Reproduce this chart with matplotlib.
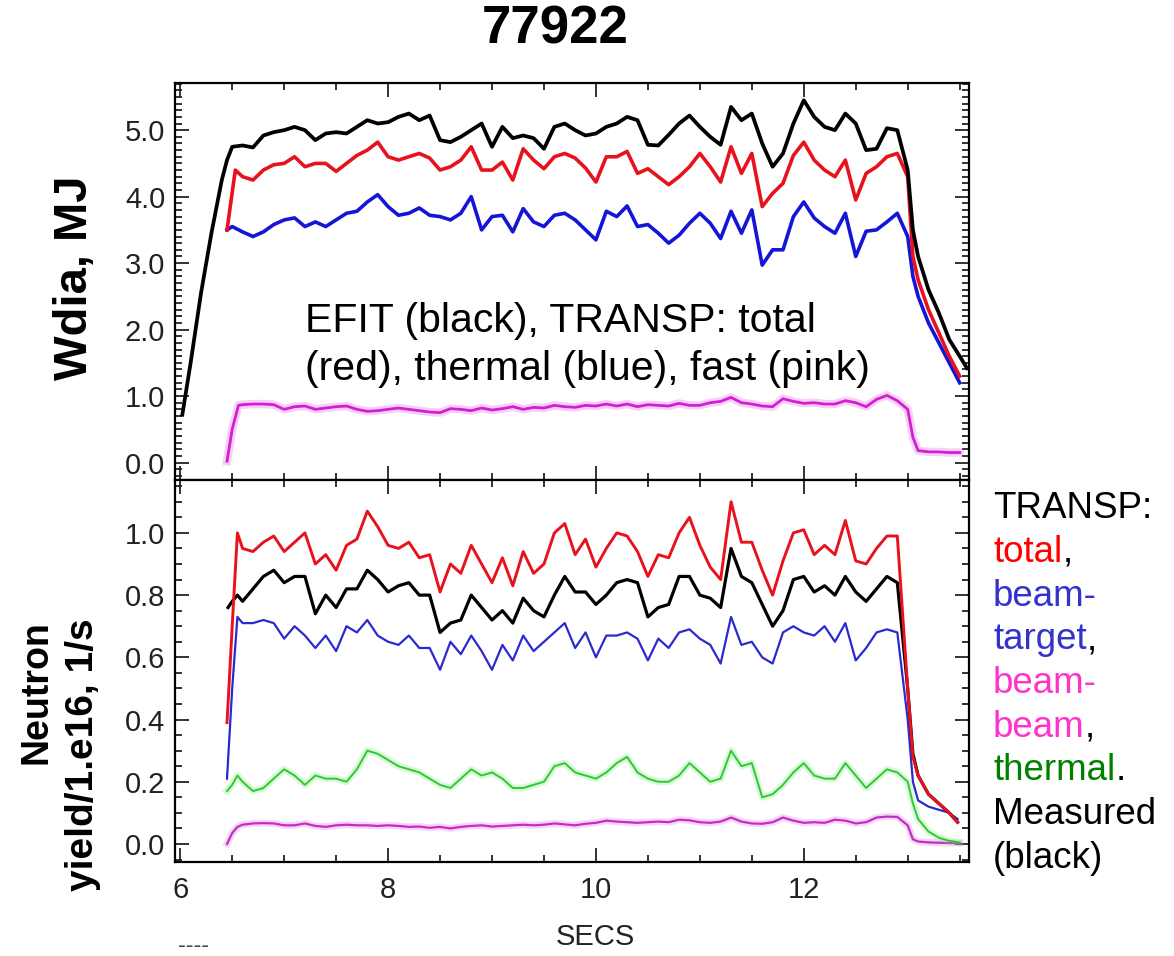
import numpy as np
import matplotlib
matplotlib.use("Agg")
import matplotlib.pyplot as plt
import matplotlib.patheffects as pe
from matplotlib.ticker import MultipleLocator, FormatStrFormatter

plt.rcParams["font.family"] = ["Liberation Sans", "DejaVu Sans"]

shot = "77922"

# common sampling grid for the flat-top part of the discharge (s)
secs = np.round(np.arange(6.6, 13.01, 0.1), 2)

# ---- stored energy, MJ ----
wdia_efit_head_t = [6.02, 6.1, 6.2, 6.3, 6.4, 6.45, 6.5]
wdia_efit_head = [0.72, 1.5, 2.55, 3.45, 4.25, 4.55, 4.75]
wdia_efit = [4.77, 4.74, 4.92, 4.97, 5.0, 5.05, 5.0, 4.85, 4.95, 4.97,
             4.95, 5.05, 5.15, 5.1, 5.12, 5.2, 5.25, 5.15, 5.22, 4.85,
             4.82, 4.9, 5.0, 5.1, 4.75, 5.05, 4.88, 4.92, 4.88, 4.72,
             5.05, 5.1, 5.0, 4.92, 4.95, 5.05, 5.1, 5.2, 5.15, 4.78,
             4.77, 4.93, 5.1, 5.22, 5.05, 4.9, 4.78, 5.35, 5.15, 5.25,
             4.8, 4.45, 4.65, 5.1, 5.45, 5.2, 5.05, 5.0, 5.25, 5.1,
             4.7, 4.72, 5.03, 5.0, 4.4]
wdia_efit_tail_t = [13.05, 13.1, 13.2, 13.3, 13.4, 13.5, 13.57]
wdia_efit_tail = [3.5, 3.1, 2.6, 2.25, 1.85, 1.6, 1.42]

wtot_head_t = [6.45, 6.53]
wtot_head = [3.5, 4.4]
wtot = [4.3, 4.25, 4.4, 4.48, 4.5, 4.6, 4.45, 4.5, 4.5, 4.38,
        4.5, 4.62, 4.7, 4.82, 4.6, 4.55, 4.6, 4.65, 4.58, 4.4,
        4.45, 4.55, 4.75, 4.4, 4.4, 4.52, 4.25, 4.72, 4.55, 4.42,
        4.6, 4.65, 4.58, 4.43, 4.22, 4.6, 4.6, 4.68, 4.35, 4.42,
        4.3, 4.18, 4.3, 4.45, 4.65, 4.45, 4.22, 4.75, 4.35, 4.65,
        3.85, 4.05, 4.2, 4.62, 4.82, 4.55, 4.4, 4.3, 4.55, 3.95,
        4.35, 4.45, 4.6, 4.65, 4.3]
wtot_tail_t = [13.05, 13.1, 13.2, 13.3, 13.4, 13.5]
wtot_tail = [3.1, 2.75, 2.3, 1.95, 1.6, 1.3]

wth_head_t = [6.45, 6.5]
wth_head = [3.5, 3.55]
wth = [3.47, 3.4, 3.47, 3.58, 3.65, 3.68, 3.55, 3.62, 3.55, 3.65,
       3.75, 3.78, 3.92, 4.03, 3.85, 3.72, 3.75, 3.83, 3.72, 3.7,
       3.65, 3.75, 4.0, 3.5, 3.7, 3.72, 3.47, 3.82, 3.62, 3.55,
       3.72, 3.75, 3.65, 3.5, 3.35, 3.78, 3.7, 3.86, 3.55, 3.58,
       3.45, 3.3, 3.42, 3.6, 3.75, 3.6, 3.37, 3.78, 3.45, 3.8,
       2.97, 3.2, 3.2, 3.7, 3.92, 3.68, 3.55, 3.45, 3.75, 3.1,
       3.48, 3.5, 3.62, 3.75, 3.4]
wth_tail_t = [13.05, 13.1, 13.2, 13.3, 13.4, 13.5]
wth_tail = [2.8, 2.5, 2.1, 1.8, 1.5, 1.2]

wfast_head_t = [6.45, 6.5, 6.56]
wfast_head = [0.02, 0.5, 0.86]
wfast = [0.87, 0.88, 0.88, 0.87, 0.8, 0.84, 0.85, 0.8, 0.82, 0.84,
         0.85, 0.8, 0.77, 0.78, 0.8, 0.82, 0.8, 0.78, 0.76, 0.75,
         0.81, 0.8, 0.78, 0.82, 0.79, 0.81, 0.84, 0.8, 0.83, 0.82,
         0.86, 0.84, 0.83, 0.86, 0.85, 0.88, 0.85, 0.88, 0.84, 0.87,
         0.86, 0.85, 0.89, 0.86, 0.86, 0.9, 0.92, 0.98, 0.9, 0.88,
         0.85, 0.84, 0.96, 0.92, 0.89, 0.9, 0.88, 0.88, 0.93, 0.9,
         0.84, 0.95, 1.01, 0.93, 0.8]
wfast_tail_t = [13.05, 13.1, 13.2, 13.3, 13.4, 13.5]
wfast_tail = [0.38, 0.18, 0.16, 0.16, 0.15, 0.15]

# ---- neutron yield, 1e16 /s ----
n_tot_head_t = [6.45, 6.5, 6.55]
n_tot_head = [0.39, 0.7, 1.0]
n_tot = [0.95, 0.94, 0.97, 0.99, 0.94, 0.97, 1.0, 0.9, 0.93, 0.88,
         0.96, 0.98, 1.07, 1.02, 0.96, 0.95, 0.97, 0.92, 0.93, 0.81,
         0.9, 0.87, 0.96, 0.9, 0.84, 0.92, 0.83, 0.94, 0.87, 0.9,
         1.0, 1.03, 0.93, 0.98, 0.89, 0.95, 1.0, 0.99, 0.94, 0.86,
         0.93, 0.92, 1.0, 1.05, 0.96, 0.89, 0.85, 1.1, 0.97, 0.97,
         0.88, 0.8, 0.91, 1.0, 1.01, 0.93, 0.96, 0.93, 1.04, 0.91,
         0.9, 0.95, 0.99, 0.99, 0.5]
n_tot_tail_t = [13.05, 13.1, 13.2, 13.3, 13.4, 13.48]
n_tot_tail = [0.28, 0.22, 0.16, 0.13, 0.1, 0.07]

n_meas_head_t = [6.46, 6.5, 6.55]
n_meas_head = [0.76, 0.78, 0.8]
n_meas = [0.78, 0.82, 0.86, 0.88, 0.84, 0.86, 0.86, 0.74, 0.8, 0.76,
          0.82, 0.82, 0.88, 0.85, 0.81, 0.83, 0.84, 0.8, 0.8, 0.68,
          0.71, 0.72, 0.8, 0.76, 0.72, 0.75, 0.71, 0.79, 0.75, 0.73,
          0.8, 0.86, 0.81, 0.81, 0.77, 0.8, 0.84, 0.85, 0.84, 0.73,
          0.76, 0.77, 0.86, 0.86, 0.8, 0.79, 0.76, 0.95, 0.86, 0.84,
          0.77, 0.7, 0.75, 0.85, 0.86, 0.81, 0.83, 0.8, 0.86, 0.81,
          0.78, 0.82, 0.86, 0.84, 0.5]
n_meas_tail_t = [13.05, 13.1, 13.2, 13.3, 13.4, 13.48]
n_meas_tail = [0.29, 0.22, 0.16, 0.13, 0.1, 0.07]

n_bt_head_t = [6.45, 6.5, 6.55]
n_bt_head = [0.21, 0.5, 0.73]
n_bt = [0.71, 0.71, 0.72, 0.71, 0.66, 0.7, 0.67, 0.63, 0.67, 0.62,
        0.7, 0.68, 0.72, 0.67, 0.65, 0.64, 0.67, 0.63, 0.63, 0.56,
        0.65, 0.61, 0.67, 0.62, 0.56, 0.64, 0.59, 0.67, 0.62, 0.65,
        0.68, 0.71, 0.63, 0.68, 0.6, 0.67, 0.67, 0.68, 0.66, 0.59,
        0.66, 0.63, 0.68, 0.69, 0.66, 0.64, 0.58, 0.73, 0.64, 0.65,
        0.6, 0.58, 0.68, 0.7, 0.68, 0.67, 0.7, 0.65, 0.71, 0.59,
        0.63, 0.68, 0.69, 0.68, 0.4]
n_bt_tail_t = [13.05, 13.1, 13.2, 13.3, 13.4, 13.48]
n_bt_tail = [0.2, 0.14, 0.12, 0.11, 0.1, 0.08]

n_th_head_t = [6.45, 6.5, 6.55]
n_th_head = [0.17, 0.19, 0.22]
n_th = [0.2, 0.17, 0.18, 0.21, 0.24, 0.22, 0.19, 0.22, 0.21, 0.21,
        0.2, 0.24, 0.3, 0.29, 0.27, 0.25, 0.24, 0.23, 0.21, 0.19,
        0.18, 0.21, 0.24, 0.22, 0.23, 0.21, 0.18, 0.18, 0.19, 0.2,
        0.25, 0.26, 0.23, 0.22, 0.21, 0.23, 0.26, 0.28, 0.23, 0.21,
        0.2, 0.2, 0.22, 0.26, 0.23, 0.2, 0.21, 0.3, 0.25, 0.26,
        0.15, 0.16, 0.19, 0.23, 0.26, 0.22, 0.21, 0.21, 0.26, 0.22,
        0.18, 0.21, 0.24, 0.23, 0.2]
n_th_tail_t = [13.05, 13.1, 13.2, 13.3, 13.4, 13.5]
n_th_tail = [0.13, 0.08, 0.04, 0.02, 0.01, 0.005]

n_bb_head_t = [6.45, 6.5, 6.55]
n_bb_head = [0.0, 0.035, 0.055]
n_bb = [0.062, 0.066, 0.067, 0.066, 0.06, 0.06, 0.066, 0.058, 0.055, 0.06,
        0.062, 0.06, 0.06, 0.058, 0.06, 0.058, 0.055, 0.056, 0.052, 0.055,
        0.05, 0.055, 0.058, 0.06, 0.056, 0.058, 0.06, 0.062, 0.06, 0.062,
        0.066, 0.063, 0.06, 0.065, 0.068, 0.075, 0.072, 0.07, 0.068, 0.07,
        0.072, 0.07, 0.078, 0.076, 0.07, 0.068, 0.072, 0.085, 0.072, 0.066,
        0.065, 0.07, 0.085, 0.075, 0.068, 0.07, 0.068, 0.078, 0.075, 0.066,
        0.07, 0.085, 0.088, 0.087, 0.06]
n_bb_tail_t = [13.05, 13.1, 13.2, 13.3, 13.4, 13.5]
n_bb_tail = [0.015, 0.008, 0.005, 0.004, 0.003, 0.003]

# colour key for the neutron panel: (word, colour) pieces per line
key_lines = [
    [("TRANSP:", "black")],
    [("total", "#ff0000"), (",", "black")],
    [("beam-", "#3333cc")],
    [("target", "#3333cc"), (",", "black")],
    [("beam-", "#ff33cc")],
    [("beam", "#ff33cc"), (",", "black")],
    [("thermal", "#008000"), (".", "black")],
    [("Measured", "black")],
    [("(black)", "black")],
]


def trace(head_t, head_v, vals, tail_t, tail_v):
    t = np.concatenate([head_t, secs, tail_t])
    v = np.concatenate([head_v, vals, tail_v])
    return t, v


def glow(color, width):
    return [pe.Stroke(linewidth=width, foreground=color, alpha=0.25), pe.Normal()]


def px(x, y):
    # pixel position -> figure fraction
    return x / 1174, 1 - y / 956


fig = plt.figure(figsize=(11.74, 9.56), dpi=100)
ax1 = fig.add_axes([0.1491, 0.4979, 0.6763, 0.4153])
ax2 = fig.add_axes([0.1491, 0.0983, 0.6763, 0.3996], sharex=ax1)

# top panel: stored energy
ax1.plot(*trace(wfast_head_t, wfast_head, wfast, wfast_tail_t, wfast_tail),
         color="#d21fd2", lw=2.0, path_effects=glow("#e040e0", 6))
ax1.plot(*trace(wth_head_t, wth_head, wth, wth_tail_t, wth_tail),
         color="#1515d8", lw=2.6)
ax1.plot(*trace(wtot_head_t, wtot_head, wtot, wtot_tail_t, wtot_tail),
         color="#e8121c", lw=2.6)
ax1.plot(*trace(wdia_efit_head_t, wdia_efit_head, wdia_efit,
                wdia_efit_tail_t, wdia_efit_tail),
         color="black", lw=2.7)

# bottom panel: neutron rates
ax2.plot(*trace(n_bb_head_t, n_bb_head, n_bb, n_bb_tail_t, n_bb_tail),
         color="#c42cc4", lw=1.6, path_effects=glow("#e060e0", 5))
ax2.plot(*trace(n_th_head_t, n_th_head, n_th, n_th_tail_t, n_th_tail),
         color="#33c733", lw=1.4, path_effects=glow("#66ee66", 5))
ax2.plot(*trace(n_bt_head_t, n_bt_head, n_bt, n_bt_tail_t, n_bt_tail),
         color="#2a2ad0", lw=1.6)
ax2.plot(*trace(n_meas_head_t, n_meas_head, n_meas, n_meas_tail_t, n_meas_tail),
         color="black", lw=2.3)
ax2.plot(*trace(n_tot_head_t, n_tot_head, n_tot, n_tot_tail_t, n_tot_tail),
         color="#e8121c", lw=2.1)

ax1.set_xlim(5.95, 13.59)
ax1.set_ylim(-0.263, 5.71)
ax2.set_ylim(-0.058, 1.170)

ax1.yaxis.set_major_locator(MultipleLocator(1.0))
ax1.yaxis.set_minor_locator(MultipleLocator(0.1))
ax1.yaxis.set_major_formatter(FormatStrFormatter("%.1f"))
ax2.yaxis.set_major_locator(MultipleLocator(0.2))
ax2.yaxis.set_minor_locator(MultipleLocator(0.05))
ax2.yaxis.set_major_formatter(FormatStrFormatter("%.1f"))
ax2.xaxis.set_major_locator(MultipleLocator(2))
ax2.xaxis.set_minor_locator(MultipleLocator(0.5))

for ax in (ax1, ax2):
    for sp in ax.spines.values():
        sp.set_linewidth(1.6)
    ax.tick_params(which="both", direction="in", top=True, right=True,
                   width=1.3, labelsize=21, colors="#222222")
    ax.tick_params(which="major", length=10, pad=7)
    ax.tick_params(which="minor", length=5)
ax1.tick_params(labelbottom=False)
ax2.tick_params(axis="x", pad=10)

# titles and axis labels
fig.text(*px(555, 30), shot, fontsize=38, fontweight="bold",
         ha="center", va="center")
fig.text(*px(75, 278), "Wdia, MJ", fontsize=34, fontweight="bold",
         rotation=90, ha="center", va="center")
fig.text(*px(37, 620), "Neutron", fontsize=27, fontweight="bold",
         rotation=90, ha="center", va="top")
fig.text(*px(83, 618), "yield/1.e16, 1/s", fontsize=28,
         fontweight="bold", rotation=90, ha="center", va="top")
fig.text(*px(595, 937), "SECS", fontsize=21, color="#222222",
         ha="center", va="center")
fig.text(*px(178, 946), "----", fontsize=17, color="#444444",
         ha="left", va="center")

# description of the energy traces
fig.text(*px(305, 332), "EFIT (black), TRANSP: total",
         fontsize=29.5, ha="left", va="baseline")
fig.text(*px(305, 380), "(red), thermal (blue), fast (pink)",
         fontsize=29.5, ha="left", va="baseline")

# key beside the neutron panel, punctuation butted against each word
for i, parts in enumerate(key_lines):
    word, col = parts[0]
    prev = fig.text(*px(993, 518 + i * 43.75), word, color=col,
                    fontsize=26.5, ha="left", va="baseline")
    for word, col in parts[1:]:
        prev = fig.text(0, 0, word, color=col, fontsize=26.5)
        prev.set_gid("follow")

fig.canvas.draw()
renderer = fig.canvas.get_renderer()
inv = fig.transFigure.inverted()
texts = fig.texts
for i, txt in enumerate(texts):
    if txt.get_gid() == "follow":
        left = texts[i - 1]
        bb = left.get_window_extent(renderer)
        x1 = inv.transform((bb.x1, bb.y0))[0]
        txt.set_position((x1, left.get_position()[1]))
        txt.set_ha("left")
        txt.set_va("baseline")

fig.savefig("out.png", dpi=100)
